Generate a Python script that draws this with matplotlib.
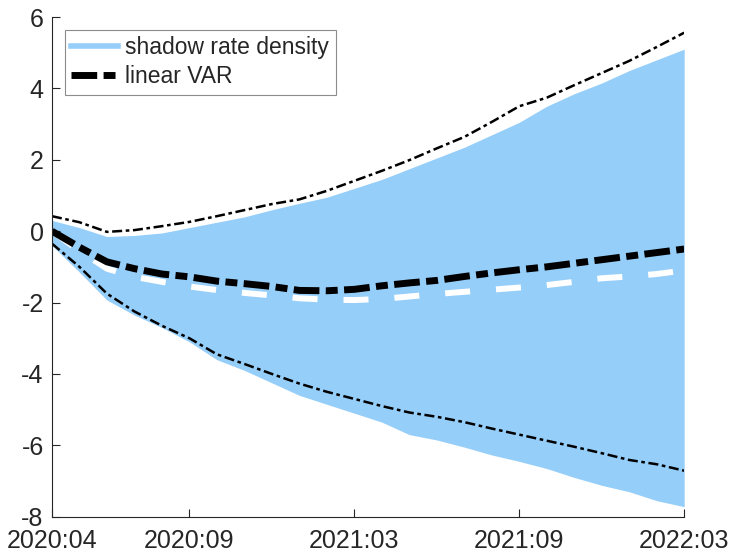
import matplotlib
matplotlib.use("Agg")
import matplotlib.pyplot as plt
from matplotlib.lines import Line2D

plt.rcParams["font.family"] = ["Liberation Sans", "DejaVu Sans"]
plt.rcParams["lines.scale_dashes"] = False
plt.rcParams["axes.unicode_minus"] = False

# horizonte mensal 2020:04 .. 2022:03
meses = list(range(24))
tick_pos = [0, 5, 11, 17, 23]
tick_lab = ["2020:04", "2020:09", "2021:03", "2021:09", "2022:03"]

# banda da densidade da shadow rate
banda_sup = [0.30, 0.10, -0.15, -0.12, -0.05, 0.10, 0.25, 0.40, 0.60, 0.78, 0.95, 1.20,
             1.45, 1.75, 2.05, 2.35, 2.70, 3.05, 3.50, 3.85, 4.15, 4.50, 4.80, 5.10]
banda_inf = [-0.40, -1.15, -1.93, -2.35, -2.70, -3.10, -3.60, -3.90, -4.25, -4.60, -4.85, -5.10,
             -5.35, -5.70, -5.85, -6.05, -6.27, -6.45, -6.65, -6.90, -7.12, -7.30, -7.55, -7.72]
# mediana da shadow rate
mediana_sr = [0.00, -0.55, -1.05, -1.28, -1.42, -1.55, -1.65, -1.73, -1.80, -1.88, -1.92, -1.93,
              -1.90, -1.83, -1.76, -1.70, -1.64, -1.58, -1.51, -1.42, -1.32, -1.27, -1.20, -1.10]

# VAR linear: mediana e bandas
var_med = [0.00, -0.45, -0.86, -1.05, -1.20, -1.28, -1.40, -1.47, -1.55, -1.66, -1.67, -1.63,
           -1.53, -1.45, -1.38, -1.27, -1.17, -1.08, -1.00, -0.90, -0.80, -0.70, -0.60, -0.50]
var_sup = [0.42, 0.25, -0.02, 0.03, 0.14, 0.26, 0.42, 0.59, 0.76, 0.89, 1.13, 1.41,
           1.69, 1.99, 2.32, 2.64, 3.06, 3.50, 3.74, 4.09, 4.43, 4.77, 5.16, 5.56]
var_inf = [-0.35, -1.00, -1.75, -2.25, -2.65, -3.00, -3.45, -3.72, -4.00, -4.27, -4.50, -4.70,
           -4.90, -5.08, -5.20, -5.35, -5.53, -5.70, -5.87, -6.04, -6.22, -6.41, -6.53, -6.71]

azul = "#96CEFA"
cinza = "#262626"

fig = plt.figure(figsize=(7.33, 5.54), dpi=100)
ax = fig.add_axes([0.0709, 0.0673, 0.8625, 0.9020])

ax.fill_between(meses, banda_inf, banda_sup, color=azul, linewidth=0)
ax.plot(meses, var_sup, color="black", linewidth=1.8, dashes=(7.2, 2.6, 2.6, 2.6))
ax.plot(meses, var_inf, color="black", linewidth=1.8, dashes=(7.2, 2.6, 2.6, 2.6))
ax.plot(meses, mediana_sr, color="white", linewidth=4.3, dashes=(18, 18.7))
ax.plot(meses, var_med, color="black", linewidth=5, dashes=(18.5, 4.6, 8.6, 4.6))

ax.set_xlim(0, 23)
ax.set_ylim(-8, 6)
ax.set_xticks(tick_pos)
ax.set_xticklabels(tick_lab)
ax.set_yticks(range(-8, 7, 2))

for lado in ["top", "right"]:
    ax.spines[lado].set_visible(False)
for lado in ["left", "bottom"]:
    ax.spines[lado].set_color(cinza)
    ax.spines[lado].set_linewidth(0.8)
ax.tick_params(direction="in", length=5.5, width=0.8, colors=cinza, labelsize=18)
ax.tick_params(axis="x", pad=9)
ax.tick_params(axis="y", pad=6)

handles = [
    Line2D([], [], color=azul, linewidth=4),
    Line2D([], [], color="black", linewidth=5, dashes=(18.5, 4.6, 8.6, 4.6)),
]
leg = ax.legend(handles, ["shadow rate density", "linear VAR"],
                loc="upper left", bbox_to_anchor=(0.02, 0.975), borderaxespad=0,
                fontsize=16.5, handlelength=2.05, handletextpad=0.3,
                fancybox=False, framealpha=1, edgecolor="#8c8c8c",
                labelspacing=0.25, borderpad=0.3)
leg.get_frame().set_linewidth(0.8)
for t in leg.get_texts():
    t.set_color(cinza)

plt.savefig("out.png", dpi=100)
